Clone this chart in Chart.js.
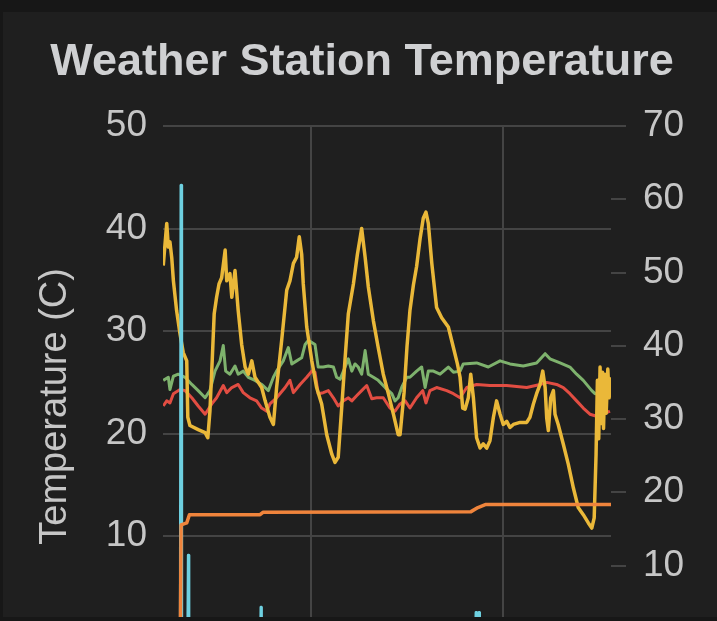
<!DOCTYPE html>
<html>
<head>
<meta charset="utf-8">
<title>Weather Station Temperature</title>
<script src="https://cdn.jsdelivr.net/npm/chart.js@4.4.1/dist/chart.umd.min.js"></script>
<style>
    body { margin: 0; background: #171717; overflow: hidden; }
    #panel { position: absolute; left: 3px; top: 12px; width: 714px; height: 605px; background: #1f1f1f; overflow: hidden; }
    #chart { position: absolute; left: -3px; top: -12px; }
</style>
</head>
<body>
<div id="panel">
    <canvas id="chart" width="717" height="678"></canvas>
</div>
<script>
// 1. Data (x = hours since start of the 7 day window)
const gridHours = [55.5, 127.5];

const outsideHours = [0.1, 1.4, 2.0, 2.6, 3.3, 3.9, 5.1, 6.4, 7.6, 8.9, 9.3, 10.1, 13.2, 15.8, 16.8, 17.6, 18.5, 19.2, 20.1, 21.0,
    22.0, 23.3, 23.9, 25.1, 25.8, 27.0, 28.2, 29.5, 30.8, 32.0, 33.3, 34.5, 37.0, 38.3, 40.1, 41.4, 42.6, 44.5, 46.4, 47.6,
    48.9, 50.1, 51.1, 52.0, 52.6, 53.9, 55.8, 57.6, 59.5, 61.4, 63.3, 64.5, 65.7, 67.0, 68.3, 69.5, 71.4, 72.9, 74.5, 75.8,
    77.0, 78.9, 80.7, 82.6, 84.5, 86.4, 88.2, 88.9, 90.4, 91.5, 92.6, 93.9, 95.1, 96.4, 97.6, 98.6, 99.5, 100.8, 102.6, 104.5,
    107.0, 108.9, 110.4, 111.4, 112.4, 113.3, 114.5, 115.4, 116.4, 117.6, 118.9, 120.1, 121.4, 122.6, 123.9, 125.1, 126.4, 127.6, 128.9, 130.1,
    131.4, 133.9, 136.4, 137.6, 138.9, 140.1, 141.4, 142.4, 143.3, 143.9, 144.5, 145.4, 146.4, 147.0, 148.2, 150.1, 152.0, 153.9, 155.7, 157.6,
    159.5, 160.8, 161.7, 162.4, 162.9, 163.4, 163.9, 164.3, 164.8, 165.2, 165.7, 166.2, 166.8, 167.3, 167.9];
const outsideTemp = [36.4, 40.5, 38.2, 38.7, 37.1, 34.9, 32.0, 29.7, 27.9, 27.1, 21.6, 20.8, 20.4, 20.1, 19.6, 22.2, 27.4, 31.7, 33.3, 34.6,
    35.2, 37.9, 34.9, 35.6, 33.3, 35.9, 32.0, 28.7, 26.5, 25.8, 27.1, 25.5, 24.5, 23.2, 21.6, 20.9, 24.5, 29.1, 34.0, 34.9,
    36.6, 37.2, 39.2, 37.5, 34.6, 30.4, 27.1, 24.5, 22.9, 19.9, 18.0, 17.2, 17.7, 22.5, 27.4, 31.7, 34.6, 37.5, 40.0, 37.2,
    34.3, 31.0, 28.4, 25.8, 23.9, 21.9, 19.9, 19.9, 24.0, 28.5, 32.0, 34.5, 36.3, 39.0, 41.0, 41.6, 40.5, 36.6, 32.3, 31.3,
    30.4, 28.4, 26.8, 25.5, 22.5, 22.4, 23.5, 25.8, 23.5, 19.6, 18.6, 19.0, 18.6, 19.3, 21.6, 23.2, 21.9, 20.9, 21.2, 20.6,
    20.9, 21.1, 21.1, 21.6, 22.9, 23.9, 24.8, 26.1, 24.5, 21.5, 20.3, 23.5, 24.2, 21.9, 20.9, 19.0, 17.0, 14.7, 12.8, 12.1,
    11.3, 10.8, 11.8, 18.0, 25.2, 19.5, 26.5, 21.0, 26.0, 20.5, 25.8, 22.0, 26.3, 23.5, 25.5];

const upstairsHours = [0.1, 2.0, 2.6, 3.9, 5.7, 8.3, 10.8, 13.2, 15.8, 17.6, 19.5, 21.4, 22.6, 23.5, 25.1, 27.0, 28.2, 30.1, 32.0, 34.5,
    37.0, 39.5, 41.4, 42.6, 45.1, 47.0, 48.3, 50.1, 52.0, 53.3, 54.5, 57.0, 58.2, 60.1, 62.0, 63.9, 65.1, 66.4, 68.3, 69.5,
    70.8, 72.0, 73.2, 74.5, 75.8, 77.0, 78.9, 80.7, 83.3, 85.8, 87.0, 88.2, 89.5, 91.4, 92.6, 95.1, 97.0, 98.3, 99.5, 101.4,
    103.9, 107.0, 108.9, 111.4, 112.6, 117.6, 122.0, 126.4, 130.1, 135.1, 140.1, 143.3, 145.1, 148.9, 152.6, 155.1, 157.6, 160.8, 162.0, 163.9];
const upstairsTemp = [25.2, 25.5, 24.3, 25.6, 25.8, 25.5, 24.8, 24.2, 23.5, 24.2, 26.1, 27.1, 28.6, 26.1, 25.8, 26.6, 25.8, 26.1, 25.5, 25.2,
    24.8, 24.2, 25.5, 26.1, 27.1, 28.4, 26.8, 27.1, 27.4, 28.7, 29.1, 28.7, 26.5, 26.5, 26.6, 26.5, 25.5, 25.3, 26.5, 27.3,
    26.1, 26.8, 26.5, 25.8, 28.1, 25.8, 25.5, 25.2, 24.5, 23.9, 23.2, 23.5, 24.5, 25.5, 25.5, 26.1, 26.5, 24.5, 26.1, 26.1,
    25.8, 26.5, 26.0, 26.1, 26.8, 26.9, 26.5, 27.1, 26.8, 26.6, 26.9, 27.8, 27.3, 26.9, 26.5, 25.8, 25.2, 24.2, 23.9, 23.9];

const downstairsHours = [0.1, 1.4, 2.6, 3.9, 6.4, 8.3, 10.8, 13.2, 15.8, 18.3, 20.1, 22.6, 23.9, 25.8, 28.2, 30.1, 32.6, 35.1, 37.0, 38.9,
    40.1, 42.6, 45.8, 47.6, 48.9, 51.4, 53.9, 55.8, 57.0, 58.2, 60.1, 62.0, 63.9, 65.7, 67.6, 69.5, 70.8, 72.6, 74.5, 76.4,
    78.3, 80.1, 82.6, 85.1, 87.0, 88.9, 90.8, 92.6, 95.1, 97.4, 98.6, 100.1, 102.6, 106.4, 108.9, 111.4, 113.9, 117.6, 122.6, 128.9,
    136.4, 141.4, 143.9, 147.6, 150.1, 152.6, 155.1, 157.6, 160.1, 162.6, 165.1, 167.6];
const downstairsTemp = [22.7, 23.2, 23.0, 23.9, 24.3, 24.2, 23.5, 22.7, 21.9, 22.9, 23.5, 24.7, 24.0, 24.5, 24.8, 24.0, 23.5, 23.2, 22.5, 22.2,
    22.9, 23.5, 24.5, 25.2, 24.0, 24.8, 25.5, 26.1, 26.0, 23.9, 24.0, 24.2, 23.5, 22.7, 23.2, 23.5, 23.2, 23.7, 24.2, 24.7,
    23.4, 23.5, 23.5, 22.5, 22.2, 22.9, 23.2, 22.5, 23.5, 24.2, 23.0, 24.2, 24.5, 24.2, 23.9, 23.5, 24.5, 24.8, 24.7, 24.7,
    24.5, 24.8, 25.0, 24.8, 24.5, 23.9, 23.2, 22.5, 21.9, 21.7, 21.9, 22.2];

const groundHours = [6.5, 6.8, 8.9, 9.9, 36.4, 37.6, 115.5, 118.1, 121.1, 168];
const groundTemp = [0, 11.1, 11.3, 12.1, 12.1, 12.35, 12.4, 12.8, 13.1, 13.1];

const rainHours = [0, 6.5, 6.75, 7.0, 9.3, 9.5, 9.7, 36.6, 36.75, 36.9, 117.2, 117.4, 117.6, 118.3, 118.5, 118.7, 168];
const rainValues = [0, 0, 61.9, 0, 0, 11.4, 0, 0, 4.3, 0, 0, 3.6, 0, 0, 3.6, 0, 0];

// 2. Helpers
const toPoints = (xs, ys) => xs.map((x, i) => ({ x: x, y: ys[i] }));

const textColor = '#c6c6c6';
const gridColor = '#444444';
const fontFamily = '"Liberation Sans", Arial, sans-serif';

const line = (label, xs, ys, color, axis, width) => ({
    label: label,
    data: toPoints(xs, ys),
    borderColor: color,
    backgroundColor: color,
    borderWidth: width,
    pointRadius: 0,
    tension: 0,
    borderJoinStyle: 'round',
    yAxisID: axis
});

// Left axis title sits a bit below the middle of the plot, so draw it ourselves
const axisTitle = {
    id: 'axisTitle',
    afterDraw(chart) {
        const { ctx, chartArea } = chart;
        ctx.save();
        ctx.translate(chartArea.left - 107, (chartArea.top + chartArea.bottom) / 2 + 24);
        ctx.rotate(-Math.PI / 2);
        ctx.fillStyle = textColor;
        ctx.font = '38px ' + fontFamily;
        ctx.textAlign = 'center';
        ctx.textBaseline = 'middle';
        ctx.fillText('Temperature (C)', 0, 0);
        ctx.restore();
    }
};

// 3. Chart
new Chart(document.getElementById('chart').getContext('2d'), {
    type: 'line',
    data: {
        datasets: [
            line('Ground', groundHours, groundTemp, '#ef843c', 'y', 3.5),
            line('Rain', rainHours, rainValues, '#6ed0e0', 'y2', 3),
            line('Outside', outsideHours, outsideTemp, '#eab839', 'y', 3.5),
            line('Upstairs', upstairsHours, upstairsTemp, '#7eb26d', 'y', 3),
            line('Downstairs', downstairsHours, downstairsTemp, '#e24d42', 'y', 3)
        ]
    },
    options: {
        responsive: false,
        animation: false,
        layout: { padding: { left: 27, right: 20, top: 0, bottom: 0 } },
        plugins: {
            legend: { display: false },
            tooltip: { enabled: false },
            title: {
                display: true,
                text: 'Weather Station Temperature',
                color: '#cfd0d2',
                font: { family: fontFamily, size: 45, weight: 'bold' },
                padding: { top: 36, bottom: 36 }
            }
        },
        scales: {
            x: {
                type: 'linear',
                min: 0,
                max: 168,
                afterBuildTicks: (scale) => { scale.ticks = gridHours.map(v => ({ value: v })); },
                ticks: { display: false },
                grid: { color: gridColor, lineWidth: 2, drawTicks: false },
                border: { display: false }
            },
            y: {
                position: 'left',
                min: 0,
                max: 50,
                ticks: { stepSize: 10, color: textColor, padding: 16, font: { family: fontFamily, size: 37 } },
                grid: { color: gridColor, lineWidth: 2, drawTicks: false },
                border: { display: false },
                afterFit: (scale) => { scale.width = 136; }
            },
            y2: {
                position: 'right',
                min: 0,
                max: 70,
                ticks: { stepSize: 10, color: textColor, padding: 17, font: { family: fontFamily, size: 37 } },
                grid: { drawOnChartArea: false, color: gridColor, lineWidth: 2, tickLength: 15 },
                border: { display: false },
                afterFit: (scale) => { scale.width = 86; }
            }
        }
    },
    plugins: [axisTitle]
});
</script>
</body>
</html>
